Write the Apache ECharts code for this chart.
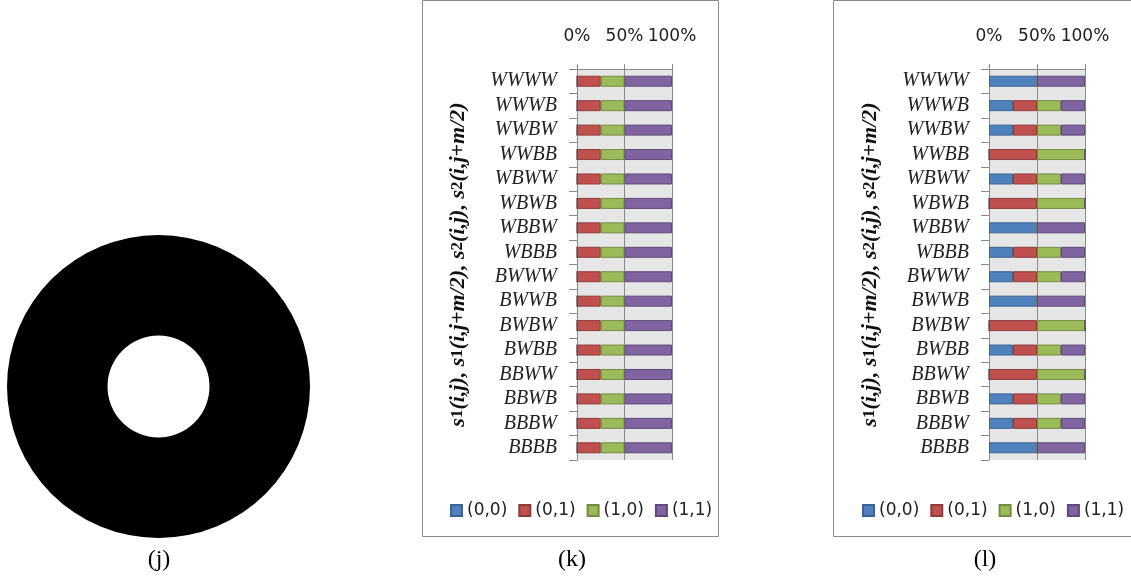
<!DOCTYPE html>
<html>
<head>
<meta charset="utf-8">
<script src="https://cdn.jsdelivr.net/npm/echarts@6/dist/echarts.min.js"></script>
<style>
html,body{margin:0;padding:0;background:#fff;}
#c{width:1131px;height:581px;}
</style>
</head>
<body>
<div id="c"></div>
<script>
const categories = ['WWWW','WWWB','WWBW','WWBB','WBWW','WBWB','WBBW','WBBB','BWWW','BWWB','BWBW','BWBB','BBWW','BBWB','BBBW','BBBB'];
const seriesNames = ['(0,0)','(0,1)','(1,0)','(1,1)'];
const xTickLabels = ['0%','50%','100%'];
const panelLabels = ['(j)','(k)','(l)'];

// panel (k)
const k00 = [0,0,0,0,0,0,0,0,0,0,0,0,0,0,0,0];
const k01 = [25,25,25,25,25,25,25,25,25,25,25,25,25,25,25,25];
const k10 = [25,25,25,25,25,25,25,25,25,25,25,25,25,25,25,25];
const k11 = [50,50,50,50,50,50,50,50,50,50,50,50,50,50,50,50];

// panel (l)
const l00 = [50,25,25,0,25,0,50,25,25,50,0,25,0,25,25,50];
const l01 = [0,25,25,50,25,50,0,25,25,0,50,25,50,25,25,0];
const l10 = [0,25,25,50,25,50,0,25,25,0,50,25,50,25,25,0];
const l11 = [50,25,25,0,25,0,50,25,25,50,0,25,0,25,25,50];

// panel (j): a single full ring
const ringData = [1];

const colors = ['#4F81BD','#C0504D','#9BBB59','#8064A2'];
const borders = ['#3A6496','#8E3B39','#738B42','#5E4A7A'];

const chart = echarts.init(document.getElementById('c'), null, {renderer:'canvas'});

const axisGray = '#8a8a8a';
function xAx(gi){
  return {
    type:'value', gridIndex:gi, position:'top', min:0, max:100, interval:50,
    axisLine:{show:true, lineStyle:{color:axisGray, width:1}},
    axisTick:{show:true, length:5, lineStyle:{color:axisGray}},
    splitLine:{show:true, lineStyle:{color:axisGray, width:1}},
    axisLabel:{
      margin:24, fontFamily:'DejaVu Sans', fontSize:17, color:'#222',
      formatter:function(v){ return xTickLabels[Math.round(v/50)]; }
    }
  };
}
function yAx(gi){
  return {
    type:'category', gridIndex:gi, data:categories, inverse:true,
    axisLine:{show:true, lineStyle:{color:axisGray, width:1}},
    axisTick:{show:true, length:8, alignWithLabel:false, interval:0, lineStyle:{color:axisGray}},
    axisLabel:{interval:0, margin:20, fontFamily:'Liberation Serif', fontStyle:'italic', fontSize:20, color:'#222'},
    name:'{i|s}{n|1}{i|(i,j), s}{n|1}{i|(i,j+m/2), s}{n|2}{i|(i,j), s}{n|2}{i|(i,j+m/2)}',
    nameLocation:'middle', nameGap:108,
    nameTextStyle:{
      rich:{
        i:{fontFamily:'Liberation Serif', fontStyle:'italic', fontWeight:'bold', fontSize:22, color:'#111'},
        n:{fontFamily:'Liberation Serif', fontWeight:'bold', fontSize:17, color:'#111'}
      }
    }
  };
}
function barSeries(gi, arrs){
  return arrs.map(function(arr, idx){
    return {
      type:'bar', name:seriesNames[idx], xAxisIndex:gi, yAxisIndex:gi,
      stack:'s'+gi, data:arr, barWidth:11, silent:true,
      itemStyle:{color:colors[idx], borderColor:borders[idx], borderWidth:1},
      animation:false
    };
  });
}
function legend(left){
  return {
    left:left, top:497, itemWidth:11, itemHeight:11, itemGap:11, icon:'rect',
    data:seriesNames, selectedMode:false,
    textStyle:{fontFamily:'DejaVu Sans', fontSize:17, color:'#222'}
  };
}
function panelText(x, y, t){
  return {type:'text', x:x, y:y, style:{text:t, font:'24px "Liberation Serif"', fill:'#000', align:'center', verticalAlign:'middle'}};
}

const option = {
  animation:false,
  backgroundColor:'#fff',
  grid:[
    {left:577, width:95, top:69, height:391, show:true, backgroundColor:'#e6e6e6', borderWidth:0},
    {left:989, width:96, top:69, height:391, show:true, backgroundColor:'#e6e6e6', borderWidth:0}
  ],
  xAxis:[xAx(0), xAx(1)],
  yAxis:[yAx(0), yAx(1)],
  legend:[legend(445), legend(857)],
  series:[].concat(
    barSeries(0,[k00,k01,k10,k11]),
    barSeries(1,[l00,l01,l10,l11]),
    [{
      type:'pie', center:[158.5,386.5], radius:[51,151.5], silent:true,
      label:{show:false}, labelLine:{show:false},
      itemStyle:{color:'#000', borderWidth:0},
      data:ringData.map(function(v){return {value:v, name:'ring'};})
    }]
  ),
  graphic:[
    {type:'rect', shape:{x:422.5, y:0.5, width:296, height:536}, style:{fill:null, stroke:'#8c8c8c', lineWidth:1}, silent:true},
    {type:'rect', shape:{x:833.5, y:0.5, width:310, height:536}, style:{fill:null, stroke:'#8c8c8c', lineWidth:1}, silent:true},
    panelText(159, 560, panelLabels[0]),
    panelText(572, 560, panelLabels[1]),
    panelText(985, 560, panelLabels[2])
  ]
};
chart.setOption(option);
</script>
</body>
</html>
